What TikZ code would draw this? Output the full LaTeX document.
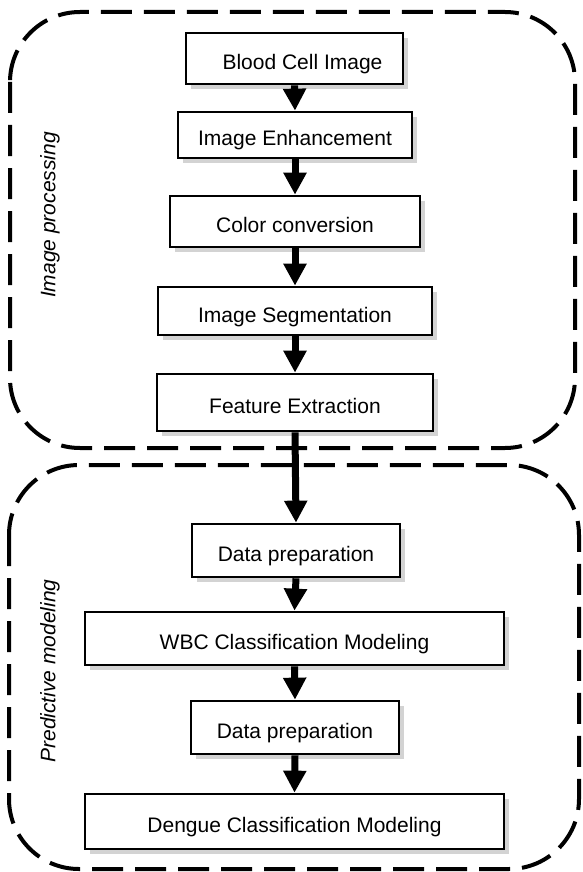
\documentclass[tikz,border=0pt]{standalone}
\usepackage{fontspec}
\setmainfont{Liberation Sans}
\usetikzlibrary{arrows.meta,shadows}
\begin{document}
\begin{tikzpicture}[x=1pt,y=-1pt,
    stepbox/.style={draw,line width=2.7pt,fill=white,minimum height=52pt,
        inner sep=0pt,text height=24pt,text depth=2pt,font=\fontsize{21}{25}\selectfont,
        drop shadow={shadow xshift=5pt,shadow yshift=-5pt,opacity=0.35,fill=gray}},
    flow/.style={-{Triangle[width=22pt,length=22pt]},line width=7pt},
    zone/.style={line width=4pt,dash pattern=on 31pt off 12pt,rounded corners=70pt},
    zonelabel/.style={rotate=90,font=\fontsize{21}{25}\selectfont\itshape}]
    \useasboundingbox (0,0) rectangle (582,872);

    \draw[zone] (10,12) rectangle (575,448);
    \draw[zone] (9,465) rectangle (579,869);

    \node[zonelabel] (lblimg) at (50,215) {Image processing};
    \node[zonelabel] (lblpred) at (50,671) {Predictive modeling};

    \node[stepbox,minimum width=217pt,minimum height=51pt] (blood) at (294.5,58.5) {\hspace{16pt}Blood Cell Image};
    \node[stepbox,minimum width=234pt,minimum height=46pt] (enhance) at (295,135) {Image Enhancement};
    \node[stepbox,minimum width=250pt,minimum height=51pt] (color) at (295,221.5) {Color conversion};
    \node[stepbox,minimum width=274pt,minimum height=48pt] (segment) at (295,311) {Image Segmentation};
    \node[stepbox,minimum width=276pt,minimum height=57pt] (feature) at (295,402.5) {Feature Extraction};

    \node[stepbox,minimum width=208pt,minimum height=53pt] (prepa) at (296,550.5) {Data preparation};
    \node[stepbox,minimum width=419pt,minimum height=53pt] (wbc) at (294.5,638.5) {WBC Classification Modeling};
    \node[stepbox,minimum width=208pt,minimum height=53pt] (prepb) at (295,727.5) {Data preparation};
    \node[stepbox,minimum width=419pt,minimum height=55pt] (dengue) at (294.5,821.5) {Dengue Classification Modeling};

    \draw[flow] (blood.south) -- (enhance.north);
    \draw[flow] (enhance.south) -- (color.north);
    \draw[flow] (color.south) -- (segment.north);
    \draw[flow] (segment.south) -- (feature.north);
    \draw[flow] (feature.south) -- (prepa.north);
    \draw[flow] (prepa.south) -- (wbc.north);
    \draw[flow] (wbc.south) -- (prepb.north);
    \draw[flow] (prepb.south) -- (dengue.north);
\end{tikzpicture}
\end{document}
